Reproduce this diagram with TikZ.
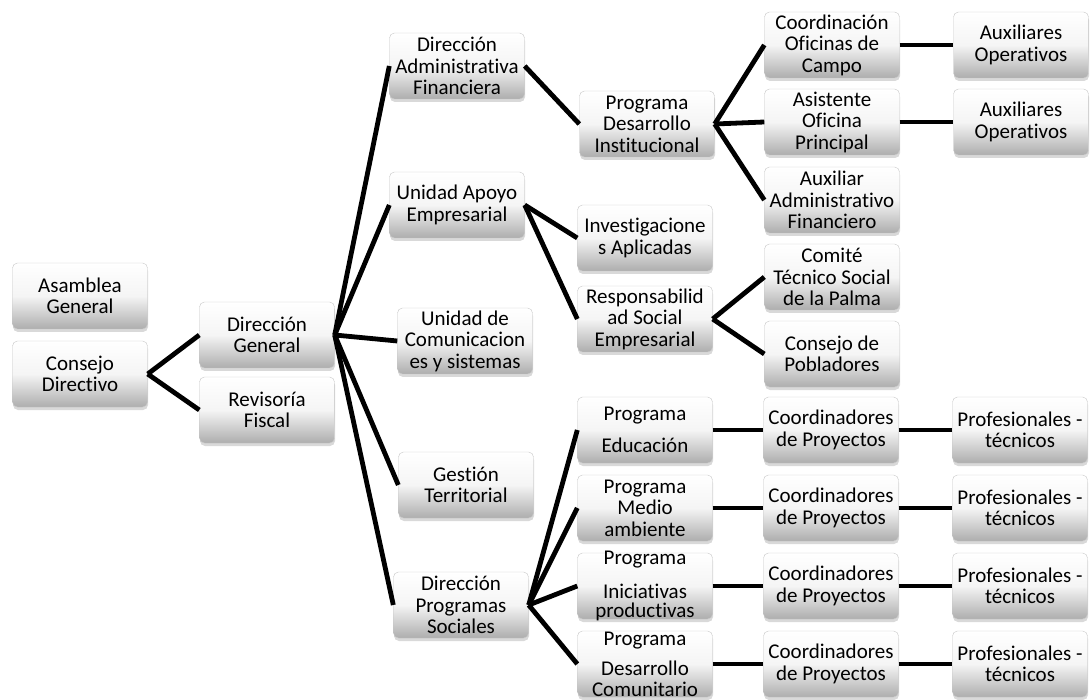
\documentclass[tikz,border=0pt]{standalone}
\usepackage{fontspec}
\setmainfont{Carlito}[Ligatures=CommonOff]
\usetikzlibrary{shadows}
\tikzset{
  caja/.style={draw=black!22,rounded corners=5pt,top color=white,bottom color=black!32,
    middle color=white!96!black,minimum width=135pt,minimum height=66pt,inner sep=0pt,
    align=center,drop shadow={shadow xshift=0.5pt,shadow yshift=-3pt,opacity=0.3}},
  larga/.style={caja,inner ysep=-4.8pt},
  linea/.style={line width=4.8pt},
}
\begin{document}
\begin{tikzpicture}[x=1pt,y=-1pt,font=\fontsize{21}{21.5}\selectfont]
  \useasboundingbox (0,0) rectangle (1092,700);
  % consejo y direccion general
  \node[caja] (asam) at (80,296) {Asamblea\\General};
  \node[caja] (cons) at (80,374) {Consejo\\Directivo};
  \node[caja] (dirg) at (267,335) {Dirección\\General};
  \node[caja] (revf) at (267,410) {Revisoría\\Fiscal};
  % tercer nivel
  \node[caja] (dadm) at (457,66) {Dirección\\Administrativa\\Financiera};
  \node[caja] (uae) at (457,205) {Unidad Apoyo\\Empresarial};
  \node[caja] (ucom) at (465,341) {Unidad de\\Comunicacion\\es y sistemas};
  \node[caja] (gter) at (466,485) {Gestión\\Territorial};
  \node[caja] (dps) at (461,605) {Dirección\\Programas\\Sociales};
  % programas
  \node[caja] (pdi) at (647,124) {Programa\\Desarrollo\\Institucional};
  \node[caja] (inv) at (645,238) {Investigacione\\s Aplicadas};
  \node[caja] (rse) at (645,319) {Responsabilid\\ad Social\\Empresarial};
  \node[caja] (pedu) at (645,430) {Programa\\[11pt]Educación};
  \node[caja] (pmed) at (645,508) {Programa\\Medio\\ambiente};
  \node[larga] (pini) at (645,586) {Programa\\[12pt]Iniciativas\\[-2pt]productivas};
  \node[larga] (pdes) at (645,664) {Programa\\[9pt]Desarrollo\\[-1pt]Comunitario};
  % quinto y sexto nivel
  \node[caja] (cofc) at (832,45) {Coordinación\\Oficinas de\\Campo};
  \node[caja] (asis) at (832,122) {Asistente\\Oficina\\Principal};
  \node[caja] (auxa) at (832,200) {Auxiliar\\Administrativo\\Financiero};
  \node[caja] (comi) at (832,277) {Comité\\Técnico Social\\de la Palma};
  \node[caja] (cpob) at (832,354) {Consejo de\\Pobladores};
  \node[caja] (aux1) at (1021,45) {Auxiliares\\Operativos};
  \node[caja] (aux2) at (1021,122) {Auxiliares\\Operativos};
  \foreach \i/\y in {1/430,2/508,3/586,4/664} {
    \node[caja] (coor\i) at (831,\y) {Coordinadores\\de Proyectos};
    \node[caja] (prof\i) at (1020,\y) {Profesionales -\\técnicos};
    \draw[linea] (coor\i.east) -- (prof\i.west);
  }
  % conectores
  \foreach \h in {dirg,revf} \draw[linea] (cons.east) -- (\h.west);
  \foreach \h in {dadm,uae,ucom,gter,dps} \draw[linea] (dirg.east) -- (\h.west);
  \draw[linea] (dadm.east) -- (pdi.west);
  \foreach \h in {inv,rse} \draw[linea] (uae.east) -- (\h.west);
  \foreach \h in {cofc,asis,auxa} \draw[linea] (pdi.east) -- (\h.west);
  \foreach \h in {comi,cpob} \draw[linea] (rse.east) -- (\h.west);
  \draw[linea] (cofc.east) -- (aux1.west);
  \draw[linea] (asis.east) -- (aux2.west);
  \foreach \p/\i in {pedu/1,pmed/2,pini/3,pdes/4} {
    \draw[linea] (dps.east) -- (\p.west);
    \draw[linea] (\p.east) -- (coor\i.west);
  }
\end{tikzpicture}
\end{document}
